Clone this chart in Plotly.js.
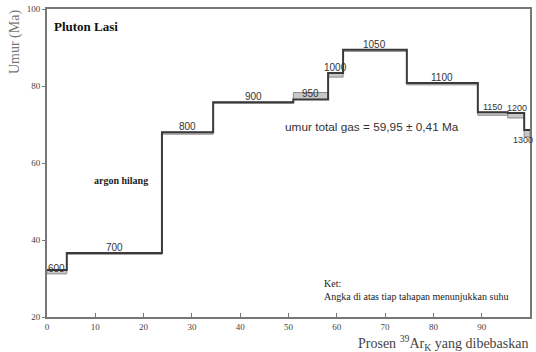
<!DOCTYPE html>
<html>
<head>
<meta charset="utf-8">
<script src="https://cdn.plot.ly/plotly-3.0.1.min.js"></script>
<style>html,body{margin:0;padding:0;background:#fff;}#chart{width:536px;height:352px;}</style>
</head>
<body>
<div id="chart"></div>
<script>
// Step heating temperatures (°C)
var temps = ["600","700","800","900","950","1000","1050","1100","1150","1200","1300"];
// Cumulative % 39ArK released: step boundaries
var bounds = [0, 4.1, 23.8, 34.4, 51.0, 58.2, 61.3, 74.5, 89.2, 95.4, 98.8, 100];
// Apparent age of each step (Ma)
var ages = [32.2, 36.6, 68.0, 75.8, 76.5, 83.4, 89.4, 80.8, 73.2, 73.0, 68.6];
// Error box low / high (Ma)
var boxLo = [31.2, 36.3, 67.5, 75.5, 76.5, 82.3, 89.0, 80.3, 72.4, 71.7, 66.8];
var boxHi = [32.2, 36.6, 68.0, 75.8, 78.3, 83.4, 89.4, 80.8, 73.2, 73.0, 68.6];
var xTicks = [0,10,20,30,40,50,60,70,80,90,100];
var yTicks = [20,40,60,80,100];

var serif = "Liberation Serif, Times New Roman, serif";
var sans = "Liberation Sans, Arial, sans-serif";

var stepX = bounds.slice();
var stepY = ages.concat([ages[ages.length-1]]);

var traces = [{
  type: "scatter", mode: "lines",
  x: stepX, y: stepY,
  line: {shape: "hv", color: "#3a3a3a", width: 2},
  hoverinfo: "skip", showlegend: false
}];

var shapes = [];
for (var i = 0; i < temps.length; i++) {
  shapes.push({type: "rect", xref: "x", yref: "y", layer: "below",
    x0: bounds[i], x1: bounds[i+1], y0: boxLo[i], y1: boxHi[i],
    fillcolor: "#c8c8c8", line: {color: "#8a8a8a", width: 1}});
}

var ann = [];
for (var j = 0; j < temps.length; j++) {
  var mid = (bounds[j] + bounds[j+1]) / 2;
  var a = {x: mid, y: ages[j], xref: "x", yref: "y", text: temps[j], showarrow: false,
    yanchor: "bottom", yshift: -2, font: {family: sans, size: 10, color: "#333"}};
  if (j === 0) { a.yanchor = "top"; a.yshift = 9; }
  if (j === 8 || j === 9) { a.font = {family: sans, size: 9, color: "#333"}; }
  if (j === 9) { a.x = 97.3; }
  if (j === 10) { a.yanchor = "top"; a.yshift = -3; a.xanchor = "right"; a.x = 100; a.xshift = 5;
    a.font = {family: sans, size: 9, color: "#333"}; }
  ann.push(a);
}
ann.push({xref: "paper", yref: "paper", x: 0.01, y: 0.975, xanchor: "left", yanchor: "top",
  text: "<b>Pluton Lasi</b>", showarrow: false, font: {family: serif, size: 13, color: "#111"}});
ann.push({xref: "paper", yref: "paper", x: -0.066, y: 0.893, xanchor: "center", yanchor: "middle",
  textangle: -90, text: "Umur (Ma)", showarrow: false, font: {family: serif, size: 14, color: "#777"}});
ann.push({xref: "paper", yref: "paper", x: 1.0, y: -0.083, xanchor: "right", yanchor: "middle",
  text: "Prosen <sup>39</sup>Ar<sub>K</sub> yang dibebaskan", showarrow: false,
  font: {family: serif, size: 14, color: "#444"}});
ann.push({xref: "x", yref: "y", x: 67.3, y: 69.4, xanchor: "center", yanchor: "middle",
  text: "umur total gas = 59,95 ± 0,41 Ma", showarrow: false, font: {family: sans, size: 11.8, color: "#333"}});
ann.push({xref: "x", yref: "y", x: 15.3, y: 55.5, xanchor: "center", yanchor: "middle",
  text: "<b>argon hilang</b>", showarrow: false, font: {family: serif, size: 10, color: "#222"}});
ann.push({xref: "x", yref: "y", x: 57.0, y: 28.7, xanchor: "left", yanchor: "middle",
  text: "Ket:", showarrow: false, font: {family: serif, size: 10, color: "#222"}});
ann.push({xref: "x", yref: "y", x: 57.0, y: 25.2, xanchor: "left", yanchor: "middle",
  text: "Angka di atas tiap tahapan menunjukkan suhu", showarrow: false, font: {family: serif, size: 10, color: "#222"}});

var layout = {
  width: 536, height: 352,
  margin: {l: 47, r: 6, t: 9, b: 35},
  paper_bgcolor: "#fff", plot_bgcolor: "#fff",
  showlegend: false,
  xaxis: {range: [0, 100], tickvals: xTicks, ticktext: xTicks.map(String),
    showgrid: false, zeroline: false, showline: true, mirror: true, linecolor: "#777", linewidth: 2,
    ticks: "inside", ticklen: 4, tickcolor: "#777", tickwidth: 1,
    tickfont: {family: serif, size: 9, color: "#444"}},
  yaxis: {range: [20, 100], tickvals: yTicks, ticktext: yTicks.map(String),
    showgrid: false, zeroline: false, showline: true, mirror: true, linecolor: "#777", linewidth: 2,
    ticks: "outside", ticklen: 3, tickcolor: "#777", tickwidth: 1,
    tickfont: {family: serif, size: 9, color: "#444"}},
  shapes: shapes,
  annotations: ann
};

Plotly.newPlot("chart", traces, layout, {staticPlot: true, displayModeBar: false});
</script>
</body>
</html>
